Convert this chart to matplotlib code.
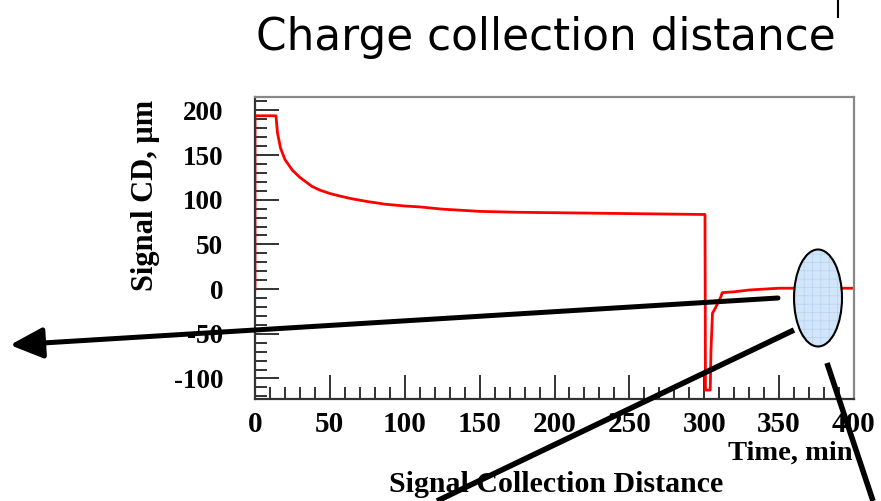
import matplotlib
matplotlib.use("Agg")
import matplotlib.pyplot as plt
from matplotlib.lines import Line2D
from matplotlib.patches import Ellipse, ArrowStyle
from matplotlib.ticker import MultipleLocator

# Signal collection distance vs time
time_min = [0, 0, 14, 15, 17, 20, 25, 30, 34, 38, 43, 50, 57, 65, 75, 87, 100, 110, 125,
            150, 175, 200, 250, 300.5, 300.8, 304.0, 304.5, 305.5, 307.8, 311, 312, 320,
            330, 350, 400]
signal_cd = [0, 194, 194, 175, 158, 145, 133, 125, 120, 115, 111, 107, 104, 101, 98, 95,
             93, 92, 89.5, 87, 86, 85.5, 84.5, 83.5, -113, -113, -68, -27, -20, -9, -4, -3,
             -1, 1, 1]

x_ticks = [0, 50, 100, 150, 200, 250, 300, 350, 400]
y_ticks = [-100, -50, 0, 50, 100, 150, 200]

plt.rcParams['axes.unicode_minus'] = False
plt.rcParams['hatch.linewidth'] = 0.5

W, H = 881, 501
fig = plt.figure(figsize=(W / 100, H / 100), dpi=100)
ax = fig.add_axes([255 / W, 1 - 399 / H, 599 / W, 302 / H])

ax.plot(time_min, signal_cd, color='#ff0000', lw=2.0)
ax.set_xlim(0, 400)
ax.set_ylim(-123, 215)

serif = 'Liberation Serif'
ax.set_xticks(x_ticks)
ax.set_yticks(y_ticks)
ax.xaxis.set_minor_locator(MultipleLocator(10))
ax.yaxis.set_minor_locator(MultipleLocator(10))
ax.tick_params(which='both', direction='in', top=False, right=False,
               width=1.3, color='#222222')
ax.tick_params(which='major', length=17)
ax.tick_params(which='minor', length=8.5)
ax.tick_params(axis='x', pad=9)
ax.tick_params(axis='y', pad=23)
for lab in ax.get_xticklabels():
    lab.set_fontfamily(serif)
    lab.set_fontweight('bold')
    lab.set_fontsize(21)
for lab in ax.get_yticklabels():
    lab.set_fontfamily(serif)
    lab.set_fontweight('bold')
    lab.set_fontsize(19.5)

for side in ['left', 'bottom']:
    ax.spines[side].set_color('#333333')
    ax.spines[side].set_linewidth(1.6)
for side in ['top', 'right']:
    ax.spines[side].set_color('#888888')
    ax.spines[side].set_linewidth(1.6)

# text and overlays placed in pixels from the top-left corner
def fx(px):
    return px / W

def fy(py):
    return 1 - py / H

fig.text(fx(853), fy(460), 'Time, min', ha='right', va='baseline',
         family=serif, fontweight='bold', fontsize=20.5)
fig.text(fx(556), fy(492), 'Signal Collection Distance', ha='center', va='baseline',
         family=serif, fontweight='bold', fontsize=21.5)
fig.text(fx(145), fy(195), 'Signal CD, \u03bcm', ha='center', va='center', rotation=90,
         family=serif, fontweight='bold', fontsize=22)

fig.text(fx(546), fy(50), 'Charge collection distance', ha='center', va='baseline',
         family='DejaVu Sans', fontsize=31.5)

fig.add_artist(Line2D([fx(838), fx(838)], [fy(0), fy(17)], transform=fig.transFigure,
                      color='black', lw=1.5))
fig.add_artist(Line2D([fx(794), fx(437)], [fy(330), fy(501)], transform=fig.transFigure,
                      color='black', lw=4, solid_capstyle='butt'))
fig.add_artist(Line2D([fx(827), fx(873)], [fy(363), fy(501)], transform=fig.transFigure,
                      color='black', lw=4, solid_capstyle='butt'))

ax.annotate('', xy=(10, H - 345), xytext=(778, H - 298),
            xycoords='figure pixels', textcoords='figure pixels',
            arrowprops=dict(arrowstyle=ArrowStyle('-|>', head_length=1.0, head_width=0.47),
                            mutation_scale=20, lw=3.6, color='black',
                            shrinkA=0, shrinkB=0))

# highlighted region: light blue fill with a faint grid, black outline
fill = Ellipse((fx(818), fy(298)), 48 / W, 97 / H, transform=fig.transFigure,
               facecolor='#d3e6f9', edgecolor='#b4d3f2', lw=0, hatch='++')
outline = Ellipse((fx(818), fy(298)), 48 / W, 97 / H, transform=fig.transFigure,
                  facecolor='none', edgecolor='black', lw=1.5)
fig.add_artist(fill)
fig.add_artist(outline)

fig.savefig('out.png', dpi=100)
